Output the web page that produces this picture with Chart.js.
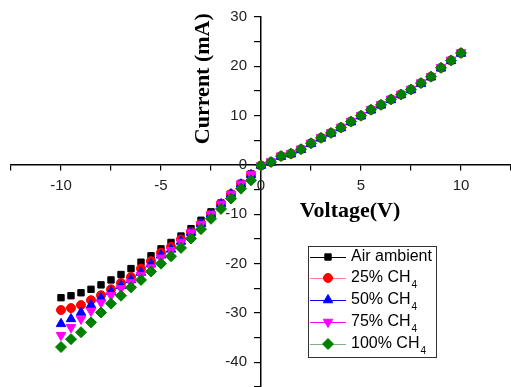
<!DOCTYPE html>
<html>
<head>
<meta charset="utf-8">
<script src="https://cdn.jsdelivr.net/npm/chart.js@4.4.0/dist/chart.umd.min.js"></script>
<style>
  html, body { margin: 0; padding: 0; background: #fff; }
</style>
</head>
<body>
<canvas id="iv" width="511" height="387"></canvas>
<script>
'use strict';

// bias voltage (V), one point every 0.5 V
const voltage = [-10, -9.5, -9, -8.5, -8, -7.5, -7, -6.5, -6, -5.5, -5, -4.5, -4, -3.5, -3, -2.5, -2, -1.5, -1, -0.5,
    0, 0.5, 1, 1.5, 2, 2.5, 3, 3.5, 4, 4.5, 5, 5.5, 6, 6.5, 7, 7.5, 8, 8.5, 9, 9.5, 10];

// current (mA)
const airAmbient = [-26.9, -26.5, -25.9, -25.2, -24.3, -23.3, -22.2, -21.0, -19.7, -18.4, -17.0, -15.7, -14.4, -12.9, -11.2, -9.5, -7.7, -5.8, -3.7, -1.8,
    -0.1, 0.6, 1.8, 2.3, 3.2, 4.4, 5.5, 6.5, 7.6, 8.8, 10.0, 11.2, 12.2, 13.3, 14.3, 15.3, 16.6, 17.9, 19.7, 21.2, 22.7];
const ch4_25 = [-29.4, -29.0, -28.4, -27.4, -26.4, -25.2, -23.9, -22.7, -21.0, -19.5, -17.8, -16.6, -15.1, -13.6, -11.9, -10.0, -7.9, -5.9, -3.9, -2.0,
    -0.1, 0.6, 1.8, 2.3, 3.2, 4.4, 5.5, 6.5, 7.6, 8.8, 10.0, 11.2, 12.2, 13.3, 14.3, 15.3, 16.6, 17.9, 19.7, 21.2, 22.7];
const ch4_50 = [-32.2, -31.2, -29.9, -28.4, -27.0, -25.7, -24.5, -23.3, -21.8, -20.1, -18.3, -17.1, -15.5, -13.7, -11.9, -10.0, -7.9, -5.9, -3.9, -2.0,
    -0.1, 0.5, 1.7, 2.2, 3.1, 4.3, 5.4, 6.4, 7.5, 8.7, 9.9, 11.1, 12.1, 13.2, 14.2, 15.2, 16.5, 17.8, 19.6, 21.1, 22.6];
const ch4_75 = [-34.5, -32.9, -31.2, -29.6, -27.9, -26.4, -25.0, -23.8, -22.3, -20.8, -18.8, -17.3, -15.6, -13.7, -12.0, -10.0, -7.9, -5.9, -3.8, -1.9,
    -0.1, 0.7, 1.9, 2.4, 3.3, 4.5, 5.6, 6.6, 7.7, 8.9, 10.1, 11.3, 12.3, 13.4, 14.4, 15.4, 16.7, 18.0, 19.8, 21.3, 22.8];
const ch4_100 = [-36.9, -35.3, -33.9, -31.9, -29.9, -28.1, -26.5, -24.8, -23.3, -21.6, -20.0, -18.5, -16.8, -14.9, -13.0, -10.9, -8.9, -6.8, -4.8, -3.1,
    -0.1, 0.6, 1.8, 2.3, 3.2, 4.4, 5.5, 6.5, 7.6, 8.8, 10.0, 11.2, 12.2, 13.3, 14.3, 15.3, 16.6, 17.9, 19.7, 21.2, 22.7];

const seriesNames = ['Air ambient', '25% CH', '50% CH', '75% CH', '100% CH'];
const seriesSubs = ['', '4', '4', '4', '4'];

const labelFont = '15px "Liberation Sans", Arial, sans-serif';

function toPoints(ys) {
    return voltage.map((v, i) => ({ x: v, y: ys[i] }));
}

function series(idx, ys, color, style, radius, rotation) {
    return {
        label: seriesNames[idx] + seriesSubs[idx],
        data: toPoints(ys),
        showLine: false,
        pointStyle: style,
        pointRadius: radius,
        pointRotation: rotation || 0,
        backgroundColor: color,
        borderColor: color,
        pointBorderWidth: 1,
        order: 4 - idx,   // later series drawn on top
        legendLine: color
    };
}

const datasets = [
    series(0, airAmbient, '#000000', 'rect', 4.5),
    series(1, ch4_25, '#ff0000', 'circle', 4.5),
    series(2, ch4_50, '#0000ff', 'triangle', 5.5),
    series(3, ch4_75, '#ff00ff', 'triangle', 5.5, 180),
    series(4, ch4_100, '#008000', 'rectRot', 5.5)
];
datasets[1].legendLine = '#ff8080';
datasets[4].legendLine = '#80b080';

// tick labels for the crossing axes (drawn here so they keep clear of the axis lines)
const tickLabels = {
    id: 'tickLabels',
    afterDraw(chart) {
        const ctx = chart.ctx;
        const x = chart.scales.x, y = chart.scales.y;
        const ax = x.getPixelForValue(0), ay = y.getPixelForValue(0);
        ctx.save();
        ctx.fillStyle = '#222';
        ctx.font = labelFont;
        ctx.textAlign = 'right';
        ctx.textBaseline = 'middle';
        y.ticks.forEach(t => {
            if (t.value % 10 === 0) ctx.fillText(String(t.value), ax - 14, y.getPixelForValue(t.value));
        });
        ctx.textAlign = 'center';
        ctx.textBaseline = 'top';
        x.ticks.forEach(t => {
            if (t.value % 5 === 0) ctx.fillText(String(t.value), x.getPixelForValue(t.value), ay + 13);
        });
        ctx.restore();
    }
};

// axis titles drawn next to the crossing axes
const axisTitles = {
    id: 'axisTitles',
    afterDraw(chart) {
        const ctx = chart.ctx;
        const x = chart.scales.x, y = chart.scales.y;
        ctx.save();
        ctx.fillStyle = '#000';
        ctx.font = 'bold 22px "Liberation Serif", "Times New Roman", serif';
        ctx.textAlign = 'center';
        ctx.textBaseline = 'middle';
        ctx.fillText('Voltage(V)', x.getPixelForValue(4.45), y.getPixelForValue(-9.4));
        ctx.translate(x.getPixelForValue(-2.9), y.getPixelForValue(17.5));
        ctx.rotate(-Math.PI / 2);
        ctx.fillText('Current (mA)', 0, 0);
        ctx.restore();
    }
};

// boxed legend with line + marker samples and subscripts
const boxLegend = {
    id: 'boxLegend',
    afterDraw(chart) {
        const ctx = chart.ctx;
        const left = 308, top = 246, w = 128, h = 111;
        const rows = [257, 278, 300, 322, 344];
        ctx.save();
        ctx.strokeStyle = '#333';
        ctx.lineWidth = 1;
        ctx.strokeRect(left + 0.5, top + 0.5, w, h);
        chart.data.datasets.forEach((ds, i) => {
            const cy = rows[i];
            ctx.strokeStyle = ds.legendLine;
            ctx.lineWidth = 1;
            ctx.beginPath();
            ctx.moveTo(310, cy + 0.5);
            ctx.lineTo(346, cy + 0.5);
            ctx.stroke();
            ctx.fillStyle = ds.backgroundColor;
            ctx.strokeStyle = ds.borderColor;
            Chart.helpers.drawPoint(ctx, {
                pointStyle: ds.pointStyle,
                radius: ds.pointRadius,
                rotation: ds.pointRotation,
                borderWidth: 1
            }, 328, cy);
            ctx.fillStyle = '#000';
            ctx.textAlign = 'left';
            ctx.textBaseline = 'middle';
            ctx.font = '16px "Liberation Sans", Arial, sans-serif';
            ctx.fillText(seriesNames[i], 351, cy);
            if (seriesSubs[i]) {
                const tw = ctx.measureText(seriesNames[i]).width;
                ctx.font = '10px "Liberation Sans", Arial, sans-serif';
                ctx.fillText(seriesSubs[i], 352 + tw, cy + 7);
            }
        });
        ctx.restore();
    }
};

new Chart(document.getElementById('iv'), {
    type: 'scatter',
    data: { datasets: datasets },
    plugins: [tickLabels, axisTitles, boxLegend],
    options: {
        responsive: false,
        animation: false,
        layout: { autoPadding: false, padding: { top: 17, left: 11, right: 0, bottom: 0 } },
        plugins: { legend: { display: false }, tooltip: { enabled: false } },
        scales: {
            x: {
                type: 'linear',
                min: -12.5,
                max: 12.5,
                position: { y: 0 },
                border: { color: '#000', width: 1.5 },
                grid: { drawOnChartArea: false, tickLength: 5, color: '#000', lineWidth: 1.2 },
                ticks: { stepSize: 2.5, autoSkip: false, display: false }
            },
            y: {
                type: 'linear',
                min: -45,
                max: 30,
                position: { x: 0 },
                border: { color: '#000', width: 1.5 },
                grid: { drawOnChartArea: false, tickLength: 6, color: '#000', lineWidth: 1.2 },
                ticks: { stepSize: 5, autoSkip: false, display: false }
            }
        }
    }
});
</script>
</body>
</html>
